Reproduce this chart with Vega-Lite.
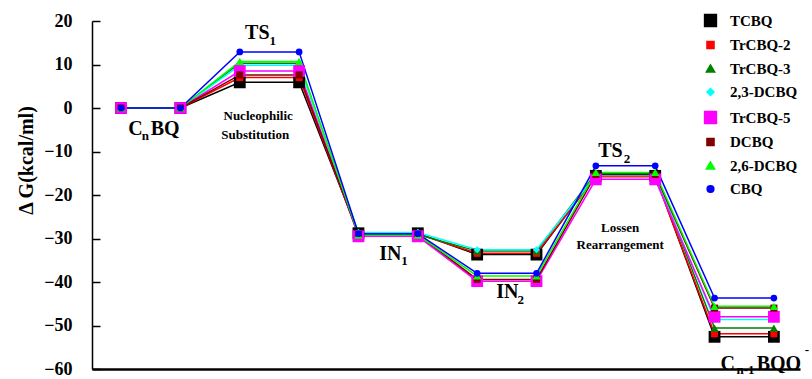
{
  "$schema": "https://vega.github.io/schema/vega-lite/v6.json",
  "width": 708,
  "height": 348,
  "autosize": {"type": "none"},
  "padding": {"left": 92, "top": 21, "right": 12, "bottom": 10},
  "background": "white",
  "config": {
    "font": "Liberation Serif",
    "view": {"stroke": null},
    "axis": {"grid": false, "labelFont": "Liberation Serif", "titleFont": "Liberation Serif"},
    "legend": {"labelFont": "Liberation Serif"}
  },
  "datasets": {
    "pts": [
      {"series": "TCBQ", "x": 1, "dG": 0}, {"series": "TCBQ", "x": 2, "dG": 0}, {"series": "TCBQ", "x": 3, "dG": 5.9}, {"series": "TCBQ", "x": 4, "dG": 5.9}, {"series": "TCBQ", "x": 5, "dG": -28.8}, {"series": "TCBQ", "x": 6, "dG": -28.8}, {"series": "TCBQ", "x": 7, "dG": -33.7}, {"series": "TCBQ", "x": 8, "dG": -33.7}, {"series": "TCBQ", "x": 9, "dG": -15.6}, {"series": "TCBQ", "x": 10, "dG": -15.6}, {"series": "TCBQ", "x": 11, "dG": -52.6}, {"series": "TCBQ", "x": 12, "dG": -52.6},
      {"series": "TrCBQ-2", "x": 1, "dG": 0}, {"series": "TrCBQ-2", "x": 2, "dG": 0}, {"series": "TrCBQ-2", "x": 3, "dG": 7.0}, {"series": "TrCBQ-2", "x": 4, "dG": 7.0}, {"series": "TrCBQ-2", "x": 5, "dG": -29.0}, {"series": "TrCBQ-2", "x": 6, "dG": -29.0}, {"series": "TrCBQ-2", "x": 7, "dG": -33.4}, {"series": "TrCBQ-2", "x": 8, "dG": -33.4}, {"series": "TrCBQ-2", "x": 9, "dG": -15.8}, {"series": "TrCBQ-2", "x": 10, "dG": -15.8}, {"series": "TrCBQ-2", "x": 11, "dG": -51.9}, {"series": "TrCBQ-2", "x": 12, "dG": -51.9},
      {"series": "TrCBQ-3", "x": 1, "dG": 0}, {"series": "TrCBQ-3", "x": 2, "dG": 0}, {"series": "TrCBQ-3", "x": 3, "dG": 10.3}, {"series": "TrCBQ-3", "x": 4, "dG": 10.3}, {"series": "TrCBQ-3", "x": 5, "dG": -29.1}, {"series": "TrCBQ-3", "x": 6, "dG": -29.1}, {"series": "TrCBQ-3", "x": 7, "dG": -32.9}, {"series": "TrCBQ-3", "x": 8, "dG": -32.9}, {"series": "TrCBQ-3", "x": 9, "dG": -15.0}, {"series": "TrCBQ-3", "x": 10, "dG": -15.0}, {"series": "TrCBQ-3", "x": 11, "dG": -50.6}, {"series": "TrCBQ-3", "x": 12, "dG": -50.6},
      {"series": "2,3-DCBQ", "x": 1, "dG": 0}, {"series": "2,3-DCBQ", "x": 2, "dG": 0}, {"series": "2,3-DCBQ", "x": 3, "dG": 9.8}, {"series": "2,3-DCBQ", "x": 4, "dG": 9.8}, {"series": "2,3-DCBQ", "x": 5, "dG": -28.6}, {"series": "2,3-DCBQ", "x": 6, "dG": -28.6}, {"series": "2,3-DCBQ", "x": 7, "dG": -32.6}, {"series": "2,3-DCBQ", "x": 8, "dG": -32.6}, {"series": "2,3-DCBQ", "x": 9, "dG": -15.5}, {"series": "2,3-DCBQ", "x": 10, "dG": -15.5}, {"series": "2,3-DCBQ", "x": 11, "dG": -48.6}, {"series": "2,3-DCBQ", "x": 12, "dG": -48.6},
      {"series": "TrCBQ-5", "x": 1, "dG": 0}, {"series": "TrCBQ-5", "x": 2, "dG": 0}, {"series": "TrCBQ-5", "x": 3, "dG": 8.5}, {"series": "TrCBQ-5", "x": 4, "dG": 8.5}, {"series": "TrCBQ-5", "x": 5, "dG": -29.5}, {"series": "TrCBQ-5", "x": 6, "dG": -29.5}, {"series": "TrCBQ-5", "x": 7, "dG": -39.8}, {"series": "TrCBQ-5", "x": 8, "dG": -39.8}, {"series": "TrCBQ-5", "x": 9, "dG": -16.4}, {"series": "TrCBQ-5", "x": 10, "dG": -16.4}, {"series": "TrCBQ-5", "x": 11, "dG": -48.0}, {"series": "TrCBQ-5", "x": 12, "dG": -48.0},
      {"series": "DCBQ", "x": 1, "dG": 0}, {"series": "DCBQ", "x": 2, "dG": 0}, {"series": "DCBQ", "x": 3, "dG": 7.6}, {"series": "DCBQ", "x": 4, "dG": 7.6}, {"series": "DCBQ", "x": 5, "dG": -29.1}, {"series": "DCBQ", "x": 6, "dG": -29.1}, {"series": "DCBQ", "x": 7, "dG": -39.4}, {"series": "DCBQ", "x": 8, "dG": -39.4}, {"series": "DCBQ", "x": 9, "dG": -15.3}, {"series": "DCBQ", "x": 10, "dG": -15.3}, {"series": "DCBQ", "x": 11, "dG": -46.0}, {"series": "DCBQ", "x": 12, "dG": -46.0},
      {"series": "2,6-DCBQ", "x": 1, "dG": 0}, {"series": "2,6-DCBQ", "x": 2, "dG": 0}, {"series": "2,6-DCBQ", "x": 3, "dG": 10.7}, {"series": "2,6-DCBQ", "x": 4, "dG": 10.7}, {"series": "2,6-DCBQ", "x": 5, "dG": -29.2}, {"series": "2,6-DCBQ", "x": 6, "dG": -29.2}, {"series": "2,6-DCBQ", "x": 7, "dG": -38.6}, {"series": "2,6-DCBQ", "x": 8, "dG": -38.6}, {"series": "2,6-DCBQ", "x": 9, "dG": -14.8}, {"series": "2,6-DCBQ", "x": 10, "dG": -14.8}, {"series": "2,6-DCBQ", "x": 11, "dG": -45.6}, {"series": "2,6-DCBQ", "x": 12, "dG": -45.6},
      {"series": "CBQ", "x": 1, "dG": 0}, {"series": "CBQ", "x": 2, "dG": 0}, {"series": "CBQ", "x": 3, "dG": 12.9}, {"series": "CBQ", "x": 4, "dG": 12.9}, {"series": "CBQ", "x": 5, "dG": -28.9}, {"series": "CBQ", "x": 6, "dG": -28.9}, {"series": "CBQ", "x": 7, "dG": -38.0}, {"series": "CBQ", "x": 8, "dG": -38.0}, {"series": "CBQ", "x": 9, "dG": -13.3}, {"series": "CBQ", "x": 10, "dG": -13.3}, {"series": "CBQ", "x": 11, "dG": -43.7}, {"series": "CBQ", "x": 12, "dG": -43.7}
    ],
    "mainText": [
      {"x": 3.09, "y": 15.9, "t": "TS"},
      {"x": 1.12, "y": -6.2, "t": "C"},
      {"x": 1.5, "y": -6.2, "t": "BQ"},
      {"x": 5.35, "y": -34.9, "t": "IN"},
      {"x": 7.32, "y": -43.7, "t": "IN"},
      {"x": 9.04, "y": -11.3, "t": "TS"},
      {"x": 11.1, "y": -60.2, "t": "C"},
      {"x": 11.71, "y": -60.2, "t": "BQO"}
    ],
    "subText": [
      {"x": 3.5, "y": 14.5, "t": "1"},
      {"x": 1.35, "y": -7.4, "t": "n"},
      {"x": 5.72, "y": -36.1, "t": "1"},
      {"x": 7.68, "y": -45.1, "t": "2"},
      {"x": 9.47, "y": -12.6, "t": "2"},
      {"x": 11.37, "y": -61.2, "t": "n-1"},
      {"x": 12.52, "y": -56.5, "t": "-"}
    ],
    "noteText": [
      {"x": 3.31, "y": -2.8, "t": "Nucleophilic"},
      {"x": 3.26, "y": -7.1, "t": "Substitution"},
      {"x": 9.41, "y": -28.5, "t": "Lossen"},
      {"x": 9.41, "y": -32.4, "t": "Rearrangement"}
    ]
  },
  "layer": [
    {
      "data": {"name": "pts"},
      "mark": {"type": "line", "strokeWidth": 1.5},
      "encoding": {
        "x": {"field": "x", "type": "quantitative", "scale": {"domain": [0.51, 12.44], "nice": false, "zero": false},
              "axis": {"title": null, "labels": false, "ticks": false, "domainColor": "black", "domainWidth": 2.5}},
        "y": {"field": "dG", "type": "quantitative", "scale": {"domain": [-60, 20], "nice": false},
              "axis": {"title": "Δ G(kcal/ml)", "values": [-60, -50, -40, -30, -20, -10, 0, 10, 20],
                       "domainColor": "black", "domainWidth": 1.5, "tickColor": "black", "tickWidth": 1.5, "tickSize": -8,
                       "labelFontSize": 18, "labelFontWeight": "bold", "labelColor": "black", "labelPadding": 28,
                       "titleFontSize": 20, "titleFontWeight": "bold", "titleColor": "black", "titleX": -56, "titleY": 139}},
        "color": {"field": "series", "type": "nominal", "title": null,
                  "scale": {"domain": ["TCBQ", "TrCBQ-2", "TrCBQ-3", "2,3-DCBQ", "TrCBQ-5", "DCBQ", "2,6-DCBQ", "CBQ"],
                            "range": ["#000000", "#ff0000", "#008000", "#00ffff", "#ff00ff", "#800000", "#00ff00", "#0000ff"]},
                  "legend": {"orient": "none", "legendX": 611, "legendY": -8, "title": null,
                             "labelFont": "Liberation Serif", "labelFontSize": 15, "labelFontWeight": "bold", "labelColor": "black",
                             "rowPadding": 7.5, "labelOffset": 12, "padding": 0}},
        "order": {"field": "x", "type": "quantitative"}
      }
    },
    {
      "data": {"name": "pts"},
      "mark": {"type": "point", "filled": true, "opacity": 1},
      "encoding": {
        "x": {"field": "x", "type": "quantitative"},
        "y": {"field": "dG", "type": "quantitative"},
        "color": {"field": "series", "type": "nominal", "title": null},
        "shape": {"field": "series", "type": "nominal", "title": null,
                  "scale": {"domain": ["TCBQ", "TrCBQ-2", "TrCBQ-3", "2,3-DCBQ", "TrCBQ-5", "DCBQ", "2,6-DCBQ", "CBQ"],
                            "range": ["square", "square", "triangle-up", "diamond", "square", "square", "triangle-up", "circle"]}},
        "size": {"field": "series", "type": "nominal", "title": null,
                 "scale": {"type": "ordinal", "domain": ["TCBQ", "TrCBQ-2", "TrCBQ-3", "2,3-DCBQ", "TrCBQ-5", "DCBQ", "2,6-DCBQ", "CBQ"],
                           "range": [140, 50, 70, 50, 140, 50, 70, 45]}}
      }
    },
    {
      "data": {"name": "mainText"},
      "mark": {"type": "text", "align": "left", "baseline": "alphabetic", "fontSize": 20, "fontWeight": "bold", "font": "Liberation Serif", "color": "black", "clip": false},
      "encoding": {"x": {"field": "x", "type": "quantitative"}, "y": {"field": "y", "type": "quantitative"}, "text": {"field": "t"}}
    },
    {
      "data": {"name": "subText"},
      "mark": {"type": "text", "align": "left", "baseline": "alphabetic", "fontSize": 13, "fontWeight": "bold", "font": "Liberation Serif", "color": "black", "clip": false},
      "encoding": {"x": {"field": "x", "type": "quantitative"}, "y": {"field": "y", "type": "quantitative"}, "text": {"field": "t"}}
    },
    {
      "data": {"name": "noteText"},
      "mark": {"type": "text", "align": "center", "baseline": "alphabetic", "fontSize": 13, "fontWeight": "bold", "font": "Liberation Serif", "color": "black"},
      "encoding": {"x": {"field": "x", "type": "quantitative"}, "y": {"field": "y", "type": "quantitative"}, "text": {"field": "t"}}
    }
  ]
}
